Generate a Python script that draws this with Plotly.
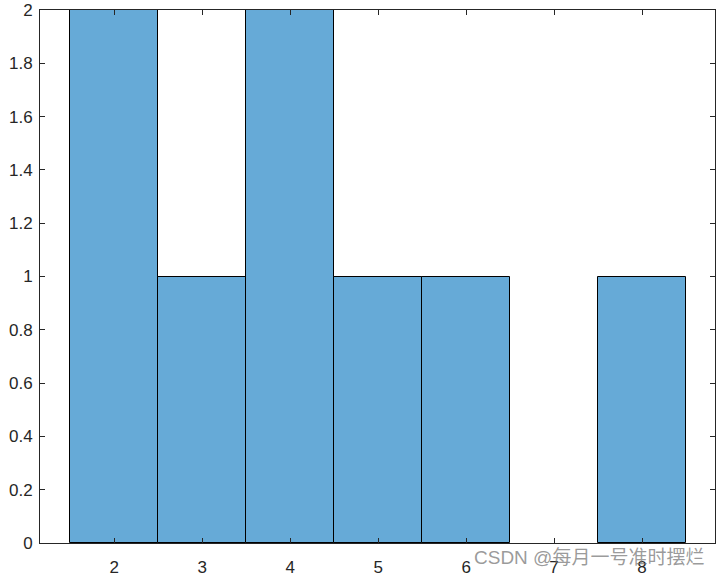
import plotly.graph_objects as go

bins = [2, 3, 4, 5, 6, 7, 8]
counts = [2, 1, 2, 1, 1, 0, 1]
y_ticks = [0, 0.2, 0.4, 0.6, 0.8, 1, 1.2, 1.4, 1.6, 1.8, 2]
y_tick_labels = ["0", "0.2", "0.4", "0.6", "0.8", "1", "1.2", "1.4", "1.6", "1.8", "2"]
x_ticks = [2, 3, 4, 5, 6, 7, 8]

fig = go.Figure(go.Bar(
    x=bins, y=counts, width=1,
    marker=dict(color="#66AAD7",
                line=dict(color="black", width=[1 if c > 0 else 0 for c in counts])),
))

axis_common = dict(
    showline=True, linecolor="#262626", linewidth=1, mirror="allticks",
    ticks="inside", ticklen=5, tickcolor="#262626", showgrid=False, zeroline=False,
    ticklabeloverflow="allow",
    tickfont=dict(family="Liberation Sans, Arial", size=17, color="#262626"),
)
fig.update_layout(
    width=719, height=577,
    margin=dict(l=40, r=4, t=10, b=34, autoexpand=False),
    paper_bgcolor="white", plot_bgcolor="white",
    showlegend=False, bargap=0,
    xaxis=dict(range=[1.155, 8.83], tickvals=x_ticks, ticklabelstandoff=9, **axis_common),
    yaxis=dict(range=[0, 2], tickvals=y_ticks, ticktext=y_tick_labels,
               ticklabelstandoff=3, **axis_common),
)
fig.add_annotation(
    text="CSDN @每月一号准时摆烂", xref="paper", yref="paper",
    x=0.986, y=-0.027, xanchor="right", yanchor="middle", showarrow=False,
    font=dict(family="Liberation Sans, Noto Sans CJK SC", size=19, color="rgba(110,110,110,0.7)"),
)
fig.write_html("out.html", config={"displayModeBar": False},
               post_script="document.body.style.margin='0px';")
